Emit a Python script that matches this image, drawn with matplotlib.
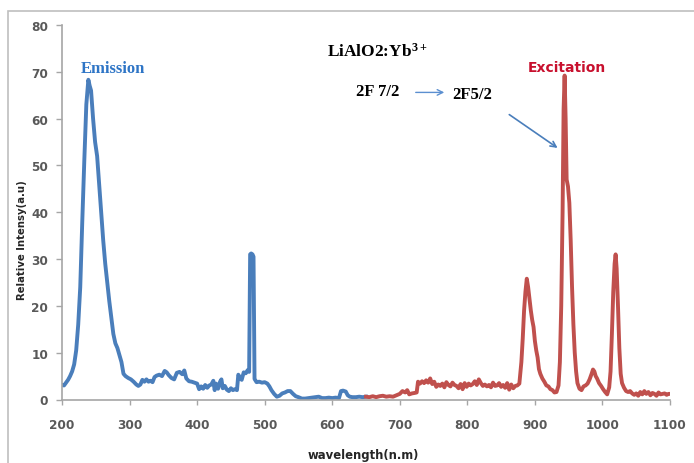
import matplotlib
matplotlib.use("Agg")
import matplotlib.pyplot as plt
from matplotlib.patches import Rectangle

# ---- data ----
em_x = [200, 203, 206, 209, 212, 215, 218, 221, 224, 227, 230, 233, 236, 239, 241, 243, 246, 249, 252, 255,
        258, 261, 264, 267, 270, 273, 276, 279, 282, 285, 288, 291, 294, 298, 302, 306, 310, 313, 316, 319,
        322, 325, 328, 331, 334, 337, 340, 344, 348, 352, 355, 358, 362, 366, 370, 374, 378, 381, 384, 388,
        392, 396, 400, 403, 406, 409, 412, 415, 418, 421, 424, 426, 428, 431, 434, 436, 438, 441, 444, 447,
        450, 453, 456, 459, 461, 463, 466, 469, 472, 475, 477, 478.5, 480, 482, 483.5, 485, 488, 492, 496, 500,
        504, 507, 510, 514, 518, 522, 526, 530, 534, 538, 542, 546, 550, 555, 560, 565, 570, 575, 580, 585,
        590, 595, 600, 605, 610, 613, 616, 620, 623, 626, 630, 635, 640, 645, 650]
em_y = [3.1, 3.0, 3.6, 4.2, 5.0, 6.0, 7.5, 10.5, 16, 24, 38, 51, 63, 68.3, 67, 66, 60, 55, 52, 46,
        40, 34, 29, 25, 21, 17.5, 14, 12, 11, 9.5, 8, 5.5, 5, 4.6, 4.3, 3.8, 3.2, 2.9, 3.2, 4.2,
        3.8, 4.3, 3.8, 4.0, 3.7, 4.8, 5.1, 5.3, 5.0, 6.1, 5.8, 5.2, 4.6, 4.3, 5.7, 5.9, 5.4, 6.2, 4.5, 3.9,
        3.8, 3.6, 3.4, 2.2, 2.8, 2.3, 3.1, 2.5, 3.0, 3.2, 4.0, 2.0, 3.4, 2.3, 3.8, 4.3, 2.4, 2.9, 2.1, 1.8,
        2.4, 2.0, 2.2, 2.0, 5.3, 4.8, 4.2, 5.8, 5.6, 6.3, 5.9, 31, 31.2, 31, 30.5, 4.4, 3.7, 3.8, 3.6, 3.7,
        3.4, 2.8, 2.0, 1.2, 0.6, 0.8, 1.3, 1.5, 1.8, 1.8, 1.2, 0.7, 0.5, 0.2, 0.2, 0.3, 0.4, 0.5, 0.6, 0.3,
        0.3, 0.4, 0.3, 0.4, 0.3, 1.8, 1.9, 1.7, 0.9, 0.6, 0.5, 0.5, 0.6, 0.5, 0.6]

ex_x = [650, 655, 660, 665, 670, 675, 680, 685, 690, 695, 700, 704, 708, 711, 714, 718, 722, 725, 727, 730,
        733, 736, 739, 742, 745, 748, 751, 754, 757, 760, 763, 766, 769, 772, 775, 778, 781, 784, 787, 790,
        793, 796, 799, 802, 805, 808, 811, 814, 817, 820, 823, 826, 829, 832, 835, 838, 841, 844, 847, 850,
        853, 856, 859, 862, 865, 868, 871, 874, 877, 880, 882, 884, 886, 888, 890, 892, 894, 896, 898, 900,
        902, 904, 906, 908, 911, 914, 917, 920, 923, 926, 929, 932, 935, 937, 939, 941, 942.5, 944, 945.5, 947,
        949, 951, 953, 955, 957, 959, 961, 963, 966, 969, 972, 975, 978, 981, 984, 986, 988, 990, 992, 995,
        998, 1001, 1004, 1007, 1010, 1012, 1014, 1016, 1018, 1019.5, 1021, 1023, 1025, 1027, 1029, 1032, 1035,
        1038, 1041, 1044, 1047, 1050, 1053, 1056, 1059, 1062, 1065, 1068, 1071, 1074, 1077, 1080, 1083, 1086,
        1089, 1092, 1095, 1098, 1100]
ex_y = [0.6, 0.5, 0.7, 0.5, 0.7, 0.8, 0.6, 0.7, 0.6, 0.9, 1.2, 1.8, 1.5, 2.0, 1.1, 1.3, 1.4, 1.5, 3.8, 3.4,
        3.9, 3.5, 4.1, 3.6, 4.5, 3.3, 3.8, 2.7, 3.2, 2.9, 3.4, 2.6, 3.7, 3.1, 2.8, 3.6, 3.1, 2.9, 2.4, 3.3,
        2.2, 3.5, 2.7, 3.4, 3.0, 3.3, 3.9, 3.1, 4.3, 3.5, 2.9, 3.2, 2.8, 3.1, 2.6, 3.6, 2.9, 3.0, 3.5, 2.7,
        3.1, 2.5, 3.5, 2.1, 3.2, 2.4, 2.9, 3.0, 3.4, 8, 13, 19, 23, 25.8, 24, 21.5, 19, 17, 15.5, 12.5,
        10.5, 9, 6.5, 5.5, 4.5, 3.8, 3.0, 2.8, 2.2, 2.0, 1.5, 1.6, 3, 8, 20, 40, 62, 69.2, 60, 47,
        45.5, 42, 34, 24, 16, 10, 6, 3.5, 2.3, 2.0, 2.8, 3.0, 3.4, 4.3, 5.5, 6.4, 6.0, 5.0, 4.5, 3.5,
        2.9, 2.2, 1.6, 1.1, 2.6, 6, 14, 23, 29, 31, 28, 20, 11, 5.5, 3.5, 2.5, 1.8,
        1.6, 1.8, 1.3, 1.0, 1.3, 0.8, 1.6, 1.1, 1.8, 1.2, 1.6, 0.9, 1.4, 1.2, 0.8, 1.5, 1.1,
        1.2, 1.3, 1.0, 1.2, 1.2]

x_ticks = [200, 300, 400, 500, 600, 700, 800, 900, 1000, 1100]
y_ticks = [0, 10, 20, 30, 40, 50, 60, 70, 80]

BLUE = "#4A7EBB"
RED = "#C0504D"
GRAY = "#A6A6A6"

fig = plt.figure(figsize=(6.94, 4.64), dpi=100)
fig.patches.append(Rectangle((8 / 694, -0.1), 1.2, (464 - 12) / 464 + 0.1,
                             transform=fig.transFigure, fill=False,
                             edgecolor="#BFBFBF", lw=1.2))
ax = fig.add_axes([62 / 694, (464 - 400.5) / 464, (670 - 62) / 694, (400.5 - 26) / 464])

ax.plot(em_x, em_y, color=BLUE, lw=2.8, solid_joinstyle="round")
ax.plot(ex_x, ex_y, color=RED, lw=2.8, solid_joinstyle="round")

ax.set_xlim(200, 1100)
ax.set_ylim(0, 80)
ax.set_xticks(x_ticks)
ax.set_yticks(y_ticks)
for s in ["top", "right"]:
    ax.spines[s].set_visible(False)
for s in ["left", "bottom"]:
    ax.spines[s].set_color(GRAY)
    ax.spines[s].set_linewidth(1.2)
ax.tick_params(axis="x", direction="out", length=3.5, width=1, color=GRAY, pad=10,
               labelsize=8.7, labelcolor="#595959")
ax.tick_params(axis="y", direction="out", length=4, width=1, color=GRAY, pad=6,
               labelsize=8.7, labelcolor="#595959")
for lab in ax.get_xticklabels() + ax.get_yticklabels():
    lab.set_fontweight("bold")

fig.text(363 / 694, 1 - 456 / 464, "wavelength(n.m)", ha="center", va="center",
         fontsize=8.4, fontweight="bold", color="#262626")
fig.text(22 / 694, 1 - 240 / 464, "Relative Intensy(a.u)", ha="center", va="center",
         rotation=90, fontsize=7.3, fontweight="bold", color="#262626")

serif = "Liberation Serif"
ax.text(275.5, 70.9, "Emission", ha="center", va="center", fontsize=12,
        fontweight="bold", family=serif, color="#2E75C6")
ax.text(592, 74.5, r"LiAlO2:Yb$\mathregular{^{3+}}$", ha="left", va="center", fontsize=12.5,
        fontweight="bold", family=serif, color="black")
ax.text(635, 66, "2F 7/2", ha="left", va="center", fontsize=12,
        fontweight="bold", family=serif, color="black")
ax.text(777, 65.2, "2F5/2", ha="left", va="center", fontsize=12,
        fontweight="bold", family=serif, color="black")
ax.annotate("", xy=(770, 65.6), xytext=(719.5, 65.6),
            arrowprops=dict(arrowstyle="->", color="#5B8FD0", lw=1.0))
ax.annotate("", xy=(937, 53.4), xytext=(858.7, 61.2),
            arrowprops=dict(arrowstyle="->", color="#4A7EBB", lw=1.2))
ax.text(947.5, 71.1, "Excitation", ha="center", va="center", fontsize=10,
        fontweight="bold", color="#C8102E")

fig.savefig("out.png", dpi=100)
